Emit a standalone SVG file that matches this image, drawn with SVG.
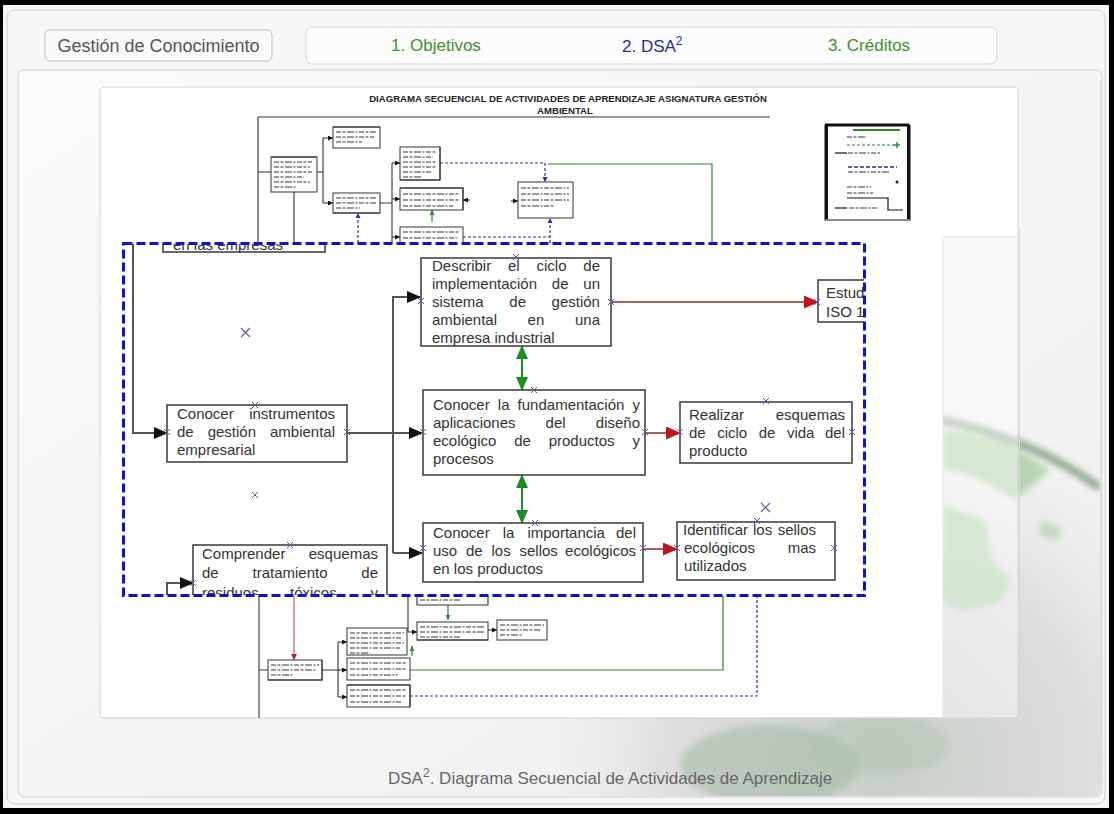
<svg xmlns="http://www.w3.org/2000/svg" width="1114" height="814" viewBox="0 0 1114 814">
<defs>
<style>
.ui{font-family:"Liberation Sans",Arial,sans-serif}
.t{font-family:"Liberation Sans",Arial,sans-serif;font-size:15px;fill:#333}
.box{fill:#fff;stroke:#444;stroke-width:1.6}
.conn{fill:none;stroke:#555;stroke-width:2}
.red{fill:none;stroke:#8b2a2a;stroke-width:1.5}
.grn{fill:none;stroke:#2e8b2e;stroke-width:2}
.sb{fill:#fff;stroke:#333;stroke-width:1}
.sl{fill:none;stroke:#333;stroke-width:1.1}
.sblue{fill:none;stroke:#3030a8;stroke-width:1.2;stroke-dasharray:3 2}
.sgreen{fill:none;stroke:#3a7a3a;stroke-width:1.2}
.tx{fill:none;stroke:#999;stroke-width:1.8;stroke-dasharray:5 1.5 3 1.5 7 1.5 2 1.5}
.xm{fill:none;stroke:#5a5aa8;stroke-width:1}
</style>
<marker id="ab" viewBox="0 0 14 12" refX="13" refY="6" markerWidth="14" markerHeight="12" markerUnits="userSpaceOnUse" orient="auto"><path d="M0,0 L14,6 L0,12 z" fill="#111"/></marker>
<marker id="ar" viewBox="0 0 15 13" refX="14" refY="6.5" markerWidth="15" markerHeight="13" markerUnits="userSpaceOnUse" orient="auto"><path d="M0,0 L15,6.5 L0,13 z" fill="#c0141c"/></marker>
<marker id="ag" viewBox="0 0 14 12" refX="13" refY="6" markerWidth="14" markerHeight="12" markerUnits="userSpaceOnUse" orient="auto-start-reverse"><path d="M0,0 L14,6 L0,12 z" fill="#1f8a2a"/></marker>
<marker id="s" viewBox="0 0 6 6" refX="6" refY="3" markerWidth="5" markerHeight="5" markerUnits="userSpaceOnUse" orient="auto"><path d="M0,0 L6,3 L0,6 z" fill="#111"/></marker>
<marker id="sbl" viewBox="0 0 6 6" refX="6" refY="3" markerWidth="5" markerHeight="5" markerUnits="userSpaceOnUse" orient="auto"><path d="M0,0 L6,3 L0,6 z" fill="#2a2aa0"/></marker>
<marker id="sgr" viewBox="0 0 6 6" refX="6" refY="3" markerWidth="5" markerHeight="5" markerUnits="userSpaceOnUse" orient="auto"><path d="M0,0 L6,3 L0,6 z" fill="#2e8b2e"/></marker>
<marker id="srd" viewBox="0 0 6 6" refX="6" refY="3" markerWidth="6" markerHeight="6" markerUnits="userSpaceOnUse" orient="auto"><path d="M0,0 L6,3 L0,6 z" fill="#b02020"/></marker>
<path id="x" d="M-3,-3 L3,3 M-3,3 L3,-3"/>
<clipPath id="zc"><rect x="124" y="244" width="740" height="351"/></clipPath>
<clipPath id="pc"><rect x="19" y="71" width="1082" height="725" rx="6"/></clipPath>
<radialGradient id="globe" cx="880" cy="760" r="345" gradientUnits="userSpaceOnUse">
<stop offset="0" stop-color="#c4ccc4" stop-opacity="0.95"/>
<stop offset="0.6" stop-color="#d8d8d8" stop-opacity="0.8"/>
<stop offset="1" stop-color="#e8e8e8" stop-opacity="0"/>
</radialGradient>
<linearGradient id="bgp" x1="0" y1="0" x2="1" y2="1">
<stop offset="0" stop-color="#fbfbfb"/>
<stop offset="1" stop-color="#efefef"/>
</linearGradient>
<filter id="soft" x="-10%" y="-10%" width="120%" height="120%"><feGaussianBlur stdDeviation="3"/></filter>
</defs>

<!-- page frame -->
<rect x="0" y="0" width="1114" height="814" fill="#000"/>
<rect x="3" y="5" width="1106" height="803" fill="#f6f6f6"/>
<rect x="7" y="10" width="1098" height="794" rx="8" fill="#f7f7f7" stroke="#d2d2d2"/>

<!-- header -->
<g id="btn-home">
<rect x="45" y="30" width="227" height="31" rx="5" fill="#fafafa" stroke="#bdbdbd"/>
<text class="ui" x="158.5" y="52" font-size="18" fill="#555" text-anchor="middle">Gestión de Conocimiento</text>
</g>
<g id="tabs">
<rect x="306" y="27" width="691" height="37" rx="6" fill="#fcfcfc" stroke="#d6d6d6"/>
<text class="ui" x="436" y="51" font-size="17" fill="#3f8f2f" text-anchor="middle">1. Objetivos</text>
<text class="ui" x="622" y="52" font-size="17" fill="#2a2aa0">2. DSA<tspan font-size="12" dy="-7">2</tspan></text>
<text class="ui" x="869" y="51" font-size="17" fill="#3f8f2f" text-anchor="middle">3. Créditos</text>
</g>

<!-- content panel with globe backdrop -->
<rect x="18" y="70" width="1084" height="727" rx="6" fill="url(#bgp)" stroke="#d0d0d0"/>
<g clip-path="url(#pc)">
<g filter="url(#soft)">
<circle cx="880" cy="760" r="345" fill="url(#globe)"/>
<path d="M940,420 Q1030,438 1100,488" fill="none" stroke="#6f8f6f" stroke-width="8" opacity="0.75"/>
<path d="M942,428 L1005,442 L1050,470 L1015,500 L985,482 L958,472 L942,470 z" fill="#a6cf9e" opacity="0.8"/>
<path d="M942,505 L985,520 L992,560 L1012,580 L1000,602 L960,612 L942,600 z" fill="#a6cf9e" opacity="0.75"/>
<path d="M1040,520 L1062,528 L1058,540 L1040,536 z" fill="#a6cf9e" opacity="0.6"/>
<ellipse cx="770" cy="765" rx="90" ry="40" fill="#9fb89f" opacity="0.5"/>
<ellipse cx="880" cy="745" rx="70" ry="30" fill="#aec4ae" opacity="0.4"/>
</g>
</g>
<rect x="1019" y="230" width="1" height="490" fill="#d8d8d8"/>
<rect x="1100" y="80" width="1" height="710" fill="#dcdcdc"/>

<!-- diagram sheet -->
<rect x="100" y="87" width="918" height="631" rx="4" fill="#fff" fill-opacity="0.45" stroke="#d4d4d4"/>
<path d="M101,88 H1017 V237 H943 V717 H101 z" fill="#fff"/>
<path d="M943,237 H1017 M943,237 V717" fill="none" stroke="#e2e2e2"/>

<!-- sheet title -->
<g id="title">
<text class="ui" x="568" y="101.5" font-size="9.6" font-weight="bold" fill="#222" text-anchor="middle">DIAGRAMA SECUENCIAL DE ACTIVIDADES DE APRENDIZAJE ASIGNATURA GESTIÓN</text>
<text class="ui" x="565" y="114" font-size="9.6" font-weight="bold" fill="#222" text-anchor="middle">AMBIENTAL</text>
</g>

<!-- overview diagram: connectors -->
<g id="mini-connectors">
<path class="sl" d="M258,117 H770 M258,117 V243"/>
<path class="sl" d="M258,172 H271 M317,172 H323 M323,138 V203 M294,192 V243"/>
<path class="sl" marker-end="url(#s)" d="M323,138 H333"/>
<path class="sl" marker-end="url(#s)" d="M323,203 H333"/>
<path class="sl" d="M380,203 H392 M392,163 V243"/>
<path class="sl" marker-end="url(#s)" d="M392,163 H400"/>
<path class="sl" marker-end="url(#s)" d="M392,199 H400"/>
<path class="sl" marker-end="url(#s)" d="M392,237 H400"/>
<path class="sl" marker-end="url(#s)" d="M470,200 H463"/>
<path class="sl" marker-end="url(#s)" d="M511,201 H518"/>
<path class="sblue" marker-end="url(#sbl)" d="M358,243 V213"/>
<path class="sblue" marker-end="url(#sbl)" d="M440,163 H545 V182"/>
<path class="sblue" marker-end="url(#sbl)" d="M550,243 V218"/>
<path class="sblue" d="M463,237 H550"/>
<path class="sgreen" d="M548,164 H712 V243"/>
<path class="sgreen" marker-end="url(#sgr)" d="M432,222 V210"/>

<path class="sl" stroke-width="1.5" d="M259,596 V718"/>
<path fill="none" stroke="#b04040" stroke-width="1" marker-end="url(#srd)" d="M294,596 V660"/>
<path class="sl" d="M259,670 H268 M322,670 H338 M338,642 V697"/>
<path class="sl" marker-end="url(#s)" d="M338,642 H347"/>
<path class="sl" marker-end="url(#s)" d="M338,670 H347"/>
<path class="sl" marker-end="url(#s)" d="M338,697 H347"/>
<path class="sl" stroke-width="1.5" marker-end="url(#s)" d="M408,596 V632 H417"/>
<path class="sl" marker-end="url(#s)" d="M488,630 H497"/>
<path class="sgreen" marker-end="url(#sgr)" d="M448,605 V620"/>
<path class="sgreen" marker-end="url(#sgr)" d="M412,656 V646"/>
<path class="sgreen" d="M410,670 H723 V596"/>
<path class="sblue" stroke="#7070b8" d="M410,696 H757 V596"/>
</g>

<!-- overview diagram: activity boxes -->
<g id="mini-a"><rect class="sb" x="271" y="157" width="46" height="35"/><path class="sl" stroke-width="2" d="M271,157 H317"/><path class="tx" d="M274,162h38M274,167h36M274,172h38M274,177h30M274,182h36M274,187h22"/></g>
<g id="mini-b"><rect class="sb" x="333" y="127" width="47" height="21"/><path class="sl" stroke-width="2" d="M333,127 H380"/><path class="tx" d="M336,132h40M336,137h38M336,142h26"/></g>
<g id="mini-c"><rect class="sb" x="333" y="193" width="47" height="20"/><path class="sl" stroke-width="2" d="M333,213 H380"/><path class="tx" d="M336,198h40M336,203h40M336,208h24"/></g>
<g id="mini-d"><rect class="sb" x="400" y="147" width="40" height="33"/><path class="sl" stroke-width="2" d="M440,147 V180 H400"/><path class="tx" d="M403,152h34M403,157h30M403,162h34M403,167h33M403,172h28M403,177h18"/></g>
<g id="mini-e"><rect class="sb" x="400" y="188" width="63" height="22"/><path class="sl" stroke-width="2" d="M400,188 H463 V210"/><path class="tx" d="M403,194h56M403,200h56M403,206h50"/></g>
<g id="mini-f"><rect class="sb" x="400" y="227" width="63" height="22"/><path class="tx" d="M403,232h56M403,238h54"/></g>
<g id="mini-g"><rect class="sb" x="518" y="182" width="55" height="36"/><path class="tx" d="M521,188h48M521,194h48M521,200h48M521,206h34"/></g>
<g id="mini-h"><rect class="sb" x="268" y="660" width="54" height="20"/><path class="sl" stroke-width="2" d="M268,680 H322 V660"/><path class="tx" d="M271,665h48M271,670h46M271,675h22"/></g>
<g id="mini-i"><rect class="sb" x="347" y="628" width="60" height="27"/><path class="tx" d="M350,633h54M350,638h52M350,643h54M350,648h50M350,653h20"/></g>
<g id="mini-j"><rect class="sb" x="347" y="658" width="63" height="22"/><path class="tx" d="M350,663h56M350,669h56M350,675h48"/></g>
<g id="mini-k"><rect class="sb" x="347" y="685" width="63" height="22"/><path class="sl" stroke-width="2" d="M347,685 H410 V707"/><path class="tx" d="M350,690h56M350,696h56M350,702h52"/></g>
<g id="mini-l"><rect class="sb" x="417" y="622" width="71" height="18"/><path class="sl" stroke-width="2" d="M417,640 H488"/><path class="tx" d="M420,627h64M420,632h64M420,637h40"/></g>
<g id="mini-m"><rect class="sb" x="497" y="620" width="50" height="20"/><path class="tx" d="M500,625h44M500,630h40M500,635h22"/></g>
<g id="mini-n"><path class="sl" stroke-width="1.5" d="M417,596 V605 H488 V596"/><path class="tx" d="M420,600h40"/></g>

<!-- legend -->
<g id="legend">
<rect x="825" y="125" width="85" height="95" fill="#fff" stroke="#111" stroke-width="1"/>
<path d="M825,125 H909 M826.5,125 V219 M908.5,125 V219" fill="none" stroke="#111" stroke-width="3"/>
<path d="M853,130 H900" stroke="#2e8b2e" stroke-width="2"/>
<path class="tx" d="M847,137h20"/>
<path d="M847,145 H893" stroke="#3a7a3a" stroke-width="1" stroke-dasharray="3 2"/>
<path d="M893,145 H900 M897,142 V148" stroke="#2e8b2e" stroke-width="1.5"/>
<path d="M835,153 H847" stroke="#111" stroke-width="1.2"/>
<path class="tx" d="M848,153h32"/>
<path d="M848,167 H897" stroke="#2a2aa0" stroke-width="1.5" stroke-dasharray="4 2"/>
<path class="tx" stroke="#444" d="M848,172h42"/>
<circle cx="897" cy="182" r="1.5" fill="#222"/>
<path class="tx" d="M847,187h24M847,193h26"/>
<path d="M847,198 H888 V210 H903" fill="none" stroke="#111" stroke-width="1.2"/>
<path d="M835,208 H847" stroke="#111" stroke-width="1.2"/>
<path class="tx" stroke="#444" d="M849,208h30"/>
</g>

<!-- magnified view -->
<rect x="123" y="243" width="742" height="353" fill="#fff"/>
<g clip-path="url(#zc)">
<g id="connectors">
<path class="conn" marker-end="url(#ab)" d="M133,238 V433 H167"/>
<path class="conn" marker-end="url(#ab)" d="M347,433 H422"/>
<path class="conn" marker-end="url(#ab)" d="M393,553 V297 H420"/>
<path class="conn" marker-end="url(#ab)" d="M393,553 H422"/>
<path class="conn" marker-end="url(#ab)" d="M167,600 V583 H193"/>
<path class="red" marker-end="url(#ar)" d="M611,302 H818"/>
<path class="red" marker-end="url(#ar)" d="M645,433 H680"/>
<path class="red" marker-end="url(#ar)" d="M643,549 H677"/>
<path class="grn" marker-start="url(#ag)" marker-end="url(#ag)" d="M522,346 V390"/>
<path class="grn" marker-start="url(#ag)" marker-end="url(#ag)" d="M522,475 V523"/>
</g>

<g id="node-empresas">
<rect class="box" x="163" y="226" width="162" height="26"/>
<text class="t" x="173" y="250">en las empresas</text>
</g>

<g id="node-describir">
<rect class="box" x="421" y="258" width="190" height="88"/>
<text class="t" y="271"><tspan x="432">Describir</tspan><tspan x="508">el</tspan><tspan x="536.5">ciclo</tspan><tspan x="583.3">de</tspan></text>
<text class="t" y="289"><tspan x="432">implementación</tspan><tspan x="551.8">de</tspan><tspan x="583.3">un</tspan></text>
<text class="t" y="307"><tspan x="432">sistema</tspan><tspan x="509.3">de</tspan><tspan x="551.6">gestión</tspan></text>
<text class="t" y="325"><tspan x="432">ambiental</tspan><tspan x="527.6">en</tspan><tspan x="575">una</tspan></text>
<text class="t" x="432" y="343">empresa industrial</text>
</g>

<g id="node-estudiar">
<rect class="box" x="818" y="280" width="70" height="42"/>
<text class="t" x="826" y="298">Estudiar</text>
<text class="t" x="826" y="317">ISO 14001</text>
</g>

<g id="node-instrumentos">
<rect class="box" x="167" y="405" width="180" height="57"/>
<text class="t" y="419"><tspan x="177">Conocer</tspan><tspan x="335" text-anchor="end">instrumentos</tspan></text>
<text class="t" y="437"><tspan x="177">de</tspan><tspan x="207.7">gestión</tspan><tspan x="335" text-anchor="end">ambiental</tspan></text>
<text class="t" x="177" y="455">empresarial</text>
</g>

<g id="node-fundamentacion">
<rect class="box" x="423" y="390" width="222" height="85"/>
<text class="t" y="410"><tspan x="433">Conocer</tspan><tspan x="497.8">la</tspan><tspan x="517.6">fundamentación</tspan><tspan x="632.5">y</tspan></text>
<text class="t" y="428"><tspan x="433">aplicaciones</tspan><tspan x="545.6">del</tspan><tspan x="595.8">diseño</tspan></text>
<text class="t" y="446"><tspan x="433">ecológico</tspan><tspan x="514.2">de</tspan><tspan x="548.7">productos</tspan><tspan x="632.5">y</tspan></text>
<text class="t" x="433" y="464">procesos</text>
</g>

<g id="node-realizar">
<rect class="box" x="680" y="402" width="172" height="61"/>
<text class="t" y="420"><tspan x="689">Realizar</tspan><tspan x="845" text-anchor="end">esquemas</tspan></text>
<text class="t" y="438"><tspan x="689">de</tspan><tspan x="717.2">ciclo</tspan><tspan x="758.7">de</tspan><tspan x="786.9">vida</tspan><tspan x="845" text-anchor="end">del</tspan></text>
<text class="t" x="689" y="456">producto</text>
</g>

<g id="node-importancia">
<rect class="box" x="423" y="523" width="220" height="59"/>
<text class="t" y="538"><tspan x="433">Conocer</tspan><tspan x="502.7">la</tspan><tspan x="527.4">importancia</tspan><tspan x="636" text-anchor="end">del</tspan></text>
<text class="t" y="556"><tspan x="433">uso</tspan><tspan x="466">de</tspan><tspan x="491.5">los</tspan><tspan x="519.5">sellos</tspan><tspan x="636" text-anchor="end">ecológicos</tspan></text>
<text class="t" x="433" y="574">en los productos</text>
</g>

<g id="node-identificar">
<rect class="box" x="677" y="522" width="158" height="58"/>
<text class="t" y="535"><tspan x="683">Identificar</tspan><tspan x="753">los</tspan><tspan x="816" text-anchor="end">sellos</tspan></text>
<text class="t" y="553"><tspan x="684">ecológicos</tspan><tspan x="816" text-anchor="end">mas</tspan></text>
<text class="t" x="684" y="571">utilizados</text>
</g>

<g id="node-comprender">
<rect class="box" x="193" y="545" width="194" height="80"/>
<text class="t" y="559"><tspan x="202">Comprender</tspan><tspan x="378" text-anchor="end">esquemas</tspan></text>
<text class="t" y="578"><tspan x="202">de</tspan><tspan x="252.5">tratamiento</tspan><tspan x="378" text-anchor="end">de</tspan></text>
<text class="t" y="598"><tspan x="202">residuos</tspan><tspan x="290">tóxicos</tspan><tspan x="378" text-anchor="end">y</tspan></text>
</g>

<!-- connection points -->
<g id="points" class="xm">
<use href="#x" x="516" y="257"/><use href="#x" x="421" y="301"/><use href="#x" x="611" y="302"/>
<use href="#x" x="534" y="390"/><use href="#x" x="423" y="432"/><use href="#x" x="645" y="432"/>
<use href="#x" x="766" y="401"/><use href="#x" x="680" y="432"/><use href="#x" x="852" y="432"/>
<use href="#x" x="535" y="523"/><use href="#x" x="423" y="548"/><use href="#x" x="643" y="548"/>
<use href="#x" x="677" y="548"/><use href="#x" x="757" y="521"/><use href="#x" x="834" y="548"/>
<use href="#x" x="255" y="405"/><use href="#x" x="167" y="432"/><use href="#x" x="347" y="432"/>
<use href="#x" x="290" y="545"/><use href="#x" x="193" y="583"/><use href="#x" x="817" y="302"/>
<use href="#x" x="255" y="495"/>
<path d="M241,328 L250,337 M241,337 L250,328 M761,503 L770,512 M761,512 L770,503" stroke-width="1.2"/>
</g>
</g>
<rect x="123.5" y="243.5" width="741" height="352" fill="none" stroke="#0a14c8" stroke-width="3" stroke-dasharray="9 4"/>

<!-- caption -->
<text class="ui" x="388" y="784" font-size="17" fill="#666">DSA<tspan font-size="12" dy="-7">2</tspan><tspan dy="7">. Diagrama Secuencial de Actividades de Aprendizaje</tspan></text>
</svg>
